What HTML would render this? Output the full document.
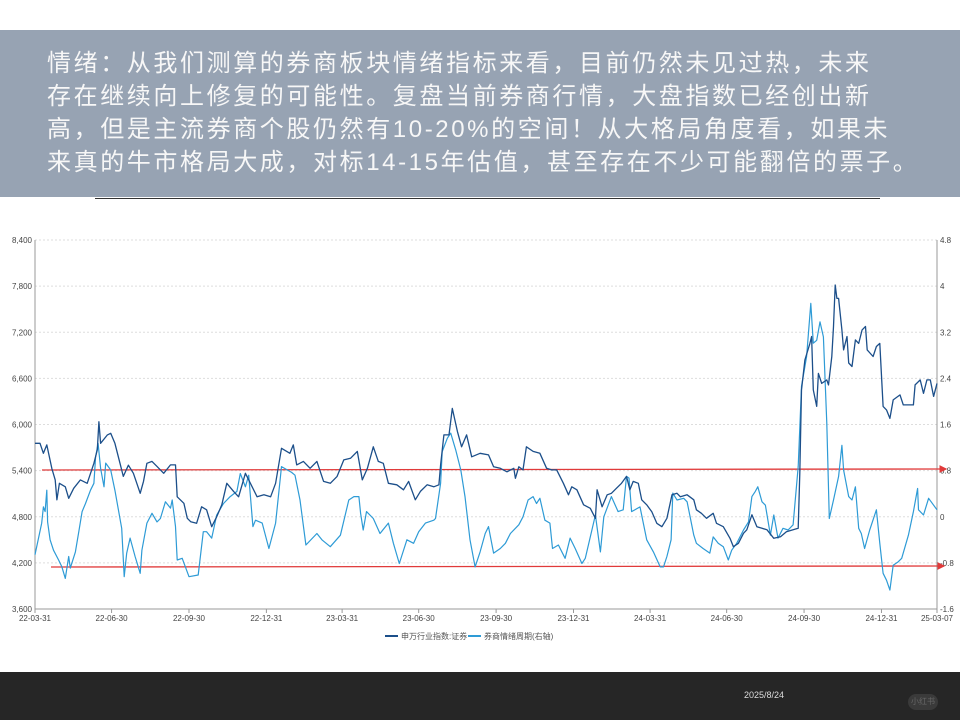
<!DOCTYPE html>
<html><head><meta charset="utf-8">
<style>
html,body{margin:0;padding:0;background:#fff;width:960px;height:720px;overflow:hidden;font-family:"Liberation Sans","Noto Sans CJK SC",sans-serif;}
#hdr{position:absolute;left:0;top:30px;width:960px;height:167px;background:#97a3b3;}
#hdr p{margin:0;position:absolute;left:47px;top:17px;color:#f7f7f7;font-size:24px;line-height:33px;letter-spacing:2.6px;font-family:"Liberation Sans","Noto Sans CJK SC",sans-serif;white-space:nowrap;}
#rule{position:absolute;left:95px;top:198px;width:785px;height:1px;background:#333;}
#foot{position:absolute;left:0;top:672px;width:960px;height:48px;background:#262626;}
#date{position:absolute;left:744px;top:18px;color:#ddd;font-size:9px;}
#wm{position:absolute;left:908px;top:22px;width:30px;height:16px;border-radius:8px;background:#3a3a3a;color:#666;font-size:8px;text-align:center;line-height:16px;}
svg{position:absolute;left:0;top:0;}
</style></head><body>
<div id="hdr"><p>情绪：从我们测算的券商板块情绪指标来看，目前仍然未见过热，未来<br>存在继续向上修复的可能性。复盘当前券商行情，大盘指数已经创出新<br>高，但是主流券商个股仍然有10-20%的空间！从大格局角度看，如果未<br>来真的牛市格局大成，对标14-15年估值，甚至存在不少可能翻倍的票子。</p></div>
<div id="rule"></div>
<svg id="chart" width="960" height="720"></svg>
<div id="foot"><span id="date">2025/8/24</span><span id="wm">小红书</span></div>
<script>
const leftTicks=[3600,4200,4800,5400,6000,6600,7200,7800,8400];
const rightTicks=[-1.6,-0.8,0,0.8,1.6,2.4,3.2,4,4.8];
const xTickLabels=["22-03-31","22-06-30","22-09-30","22-12-31","23-03-31","23-06-30","23-09-30","23-12-31","24-03-31","24-06-30","24-09-30","24-12-31","25-03-07"];
const xTickDays=[0,91,183,275,365,456,548,640,731,822,914,1006,1072];
const indexDays=[0,6,10,14,20,24,26,29,36,40,46,54,62,70,74,76,78,86,90,95,101,105,111,117,125,129,133,139,145,153,161,167,169,177,181,185,192,198,204,210,216,222,228,236,242,250,256,264,272,280,286,293,303,307,311,319,327,335,343,351,359,367,375,383,389,395,402,408,414,420,430,438,444,452,458,466,474,480,482,486,492,496,502,507,513,519,529,539,545,553,561,569,571,575,580,584,592,600,608,614,620,628,634,638,644,652,660,666,668,674,680,685,691,697,703,707,711,717,721,727,733,739,745,751,757,763,767,775,783,786,792,798,806,810,818,826,830,836,842,846,852,858,864,870,878,886,893,901,907,909,911,915,921,923,925,929,931,935,941,943,947,949,951,953,955,959,961,965,967,971,975,979,983,987,989,996,1000,1004,1008,1012,1016,1020,1028,1032,1044,1046,1052,1056,1060,1064,1068,1072];
const indexValues=[5755,5755,5625,5735,5430,5280,5020,5235,5190,5040,5170,5280,5235,5495,5670,6035,5755,5865,5885,5755,5495,5325,5470,5365,5105,5260,5495,5520,5455,5365,5475,5475,5060,4975,4780,4735,4715,4930,4890,4670,4800,4955,5235,5130,5060,5365,5235,5060,5085,5060,5235,5690,5625,5735,5475,5520,5430,5520,5260,5235,5325,5540,5560,5650,5280,5430,5710,5520,5495,5235,5215,5150,5260,5020,5130,5215,5190,5215,5475,5865,5865,6210,5910,5710,5865,5580,5625,5605,5450,5430,5385,5430,5300,5450,5410,5710,5650,5625,5430,5410,5410,5235,5085,5190,5150,4955,4910,4780,5150,4930,5085,5105,5170,5235,5325,5150,5260,5235,5020,4955,4865,4715,4670,4780,5085,5105,5060,5085,5020,4890,4845,4780,4845,4715,4670,4520,4410,4455,4585,4630,4825,4670,4650,4630,4520,4540,4605,4630,4650,5365,6450,6840,7055,7145,6450,6235,6665,6535,6580,6515,6885,7275,7815,7640,7640,7230,6970,7145,6800,6755,7100,7055,7230,7275,6970,6885,7015,7055,6235,6190,6080,6320,6385,6255,6255,6515,6580,6405,6580,6580,6365,6535];
const moodDays=[0,8,10,12,14,15,18,22,28,32,36,40,42,48,52,56,60,66,70,72,75,78,82,84,90,95,103,106,109,113,119,125,127,133,139,145,149,155,161,163,167,169,175,183,194,200,204,210,216,224,232,240,244,250,254,259,262,270,278,286,293,305,309,315,322,335,341,351,363,373,379,385,387,390,394,402,410,420,426,433,442,450,456,464,474,476,482,484,490,494,500,506,511,517,523,529,535,539,545,553,559,565,575,580,586,592,596,600,606,612,615,622,630,636,642,650,654,660,666,672,676,685,693,699,703,706,709,719,727,735,743,747,751,756,758,763,771,775,783,786,794,802,806,812,818,824,828,834,842,848,852,856,859,864,868,874,878,883,889,895,901,907,911,917,922,925,929,933,937,941,944,949,955,959,961,967,971,975,979,982,986,992,1000,1004,1008,1012,1016,1020,1026,1030,1038,1044,1049,1050,1056,1062,1072];
const moodValues=[-0.66,-0.11,0.17,0.09,0.46,-0.09,-0.40,-0.58,-0.75,-0.87,-1.07,-0.69,-0.89,-0.61,-0.26,0.09,0.23,0.46,0.58,1.04,1.27,0.84,0.52,0.93,0.81,0.46,-0.20,-1.04,-0.63,-0.37,-0.69,-0.98,-0.58,-0.11,0.06,-0.09,-0.03,0.26,0.15,0.29,-0.17,-0.75,-0.72,-1.04,-1.01,-0.26,-0.26,-0.37,0.03,0.23,0.35,0.44,0.75,0.52,0.72,-0.17,-0.06,-0.11,-0.55,-0.11,0.87,0.77,0.72,0.29,-0.49,-0.29,-0.40,-0.52,-0.32,0.29,0.35,0.35,0.06,-0.23,0.09,-0.03,-0.29,-0.11,-0.46,-0.81,-0.40,-0.46,-0.26,-0.11,-0.06,-0.03,0.58,1.13,1.36,1.45,1.16,0.81,0.35,-0.40,-0.87,-0.61,-0.29,-0.17,-0.63,-0.55,-0.46,-0.29,-0.14,0.00,0.29,0.35,0.23,0.32,-0.06,-0.11,-0.55,-0.49,-0.72,-0.37,-0.55,-0.81,-0.72,-0.35,0.03,-0.61,0.00,0.35,0.09,0.12,0.70,0.67,0.09,0.17,-0.40,-0.61,-0.87,-0.87,-0.69,-0.40,0.41,0.29,0.32,0.26,-0.32,-0.46,-0.55,-0.63,-0.35,-0.46,-0.52,-0.75,-0.58,-0.46,-0.23,-0.09,0.35,0.44,0.52,0.26,0.20,-0.32,0.03,-0.37,-0.20,-0.23,-0.14,0.87,2.26,2.78,3.70,3.01,3.06,3.38,3.12,1.62,-0.03,0.29,0.70,1.24,0.81,0.35,0.29,0.52,-0.20,-0.29,-0.55,-0.23,0.12,-0.46,-0.98,-1.10,-1.27,-0.84,-0.78,-0.72,-0.32,0.09,0.49,0.12,0.03,0.32,0.12];
const seriesNames=["申万行业指数:证券","券商情绪周期(右轴)"];

const NS="http://www.w3.org/2000/svg";
const svg=document.getElementById('chart');
const X0=35,X1=937,Y0=609,Y1=240,DMAX=1072;
const xS=d=>X0+d/DMAX*(X1-X0);
const yL=v=>Y0-(v-3600)/(8400-3600)*(Y0-Y1);
const yR=v=>Y0-(v+1.6)/(4.8+1.6)*(Y0-Y1);
function mk(tag,attrs,parent){const e=document.createElementNS(NS,tag);for(const k in attrs)e.setAttribute(k,attrs[k]);(parent||svg).appendChild(e);return e;}
const FONT='"Liberation Sans","Noto Sans CJK SC",sans-serif';
leftTicks.forEach((v,i)=>{
  const y=yL(v);
  if(i>0){const g=mk('line',{x1:X0,x2:X1,y1:y,y2:y,stroke:'#ddd','stroke-dasharray':'2,2','stroke-width':1});
  
  }
  const t=mk('text',{x:X0-3,y:y+3,'text-anchor':'end','font-size':8,fill:'#444','font-family':FONT});
  t.textContent=v.toLocaleString('en-US');
  
  
});
rightTicks.forEach(v=>{
  const y=yR(v);
  const t=mk('text',{x:X1+3,y:y+3,'text-anchor':'start','font-size':8,fill:'#444','font-family':FONT});
  t.textContent=String(v);
  
  
});
const ax=mk('path',{d:`M${X0},${Y1}V${Y0}H${X1}V${Y1}`,fill:'none',stroke:'#999','stroke-width':1});


xTickLabels.forEach((lab,i)=>{
  const x=xS(xTickDays[i]);
  mk('line',{x1:x,x2:x,y1:Y0,y2:Y0+4,stroke:'#999'});
  const t=mk('text',{x:x,y:Y0+12,'text-anchor':'middle','font-size':8,fill:'#444','font-family':FONT});
  t.textContent=lab;
  
  
});
const defs=mk('defs',{});
const mrk=mk('marker',{id:'arr',markerWidth:6,markerHeight:6,refX:5,refY:3,orient:'auto'},defs);
mk('path',{d:'M0,0L6,3L0,6z',fill:'#e03a3a'},mrk);
const r1=mk('line',{x1:42,x2:946,y1:470,y2:469,stroke:'#e03a3a','stroke-width':1.3,'marker-end':'url(#arr)'});


const r2=mk('line',{x1:51,x2:944,y1:567,y2:566,stroke:'#e03a3a','stroke-width':1.3,'marker-end':'url(#arr)'});


const pMood=mk('path',{d:moodDays.map((d,i)=>(i?'L':'M')+xS(d).toFixed(1)+','+yR(moodValues[i]).toFixed(1)).join(''),fill:'none',stroke:'#2e9bd6','stroke-width':1.2,'stroke-linejoin':'round'});


const pIdx=mk('path',{d:indexDays.map((d,i)=>(i?'L':'M')+xS(d).toFixed(1)+','+yL(indexValues[i]).toFixed(1)).join(''),fill:'none',stroke:'#1c4f8a','stroke-width':1.3,'stroke-linejoin':'round'});


const lg=[[385,'#1c4f8a'],[468,'#2e9bd6']];
lg.forEach((l,i)=>{
  const g=mk('g',{});
  
  
  mk('line',{x1:l[0],x2:l[0]+13,y1:636,y2:636,stroke:l[1],'stroke-width':2},g);
  const t=mk('text',{x:l[0]+16,y:639,'font-size':8,fill:'#555','font-family':FONT},g);
  t.textContent=seriesNames[i];
});
</script>
</body></html>
